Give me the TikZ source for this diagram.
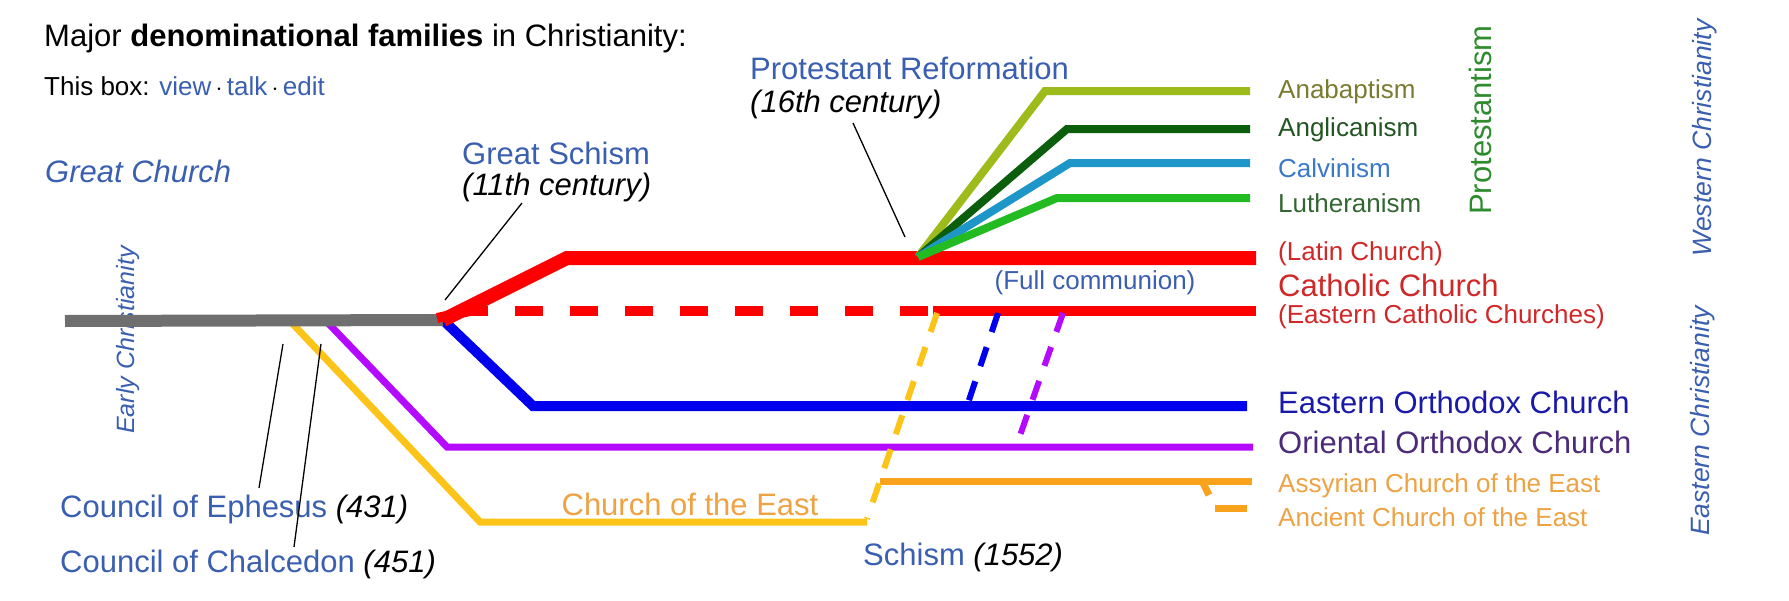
\documentclass[tikz,border=0pt]{standalone}
\usepackage{fontspec}
\setmainfont{Liberation Sans}
\definecolor{cgray}{HTML}{6F6F6F}
\definecolor{cred}{HTML}{FF0000}
\definecolor{tred}{HTML}{D02828}
\definecolor{cblue}{HTML}{0000EE}
\definecolor{tblue}{HTML}{1A1AA8}
\definecolor{cpurp}{HTML}{B40AFF}
\definecolor{tpurp}{HTML}{4B2A7A}
\definecolor{cyell}{HTML}{FCC418}
\definecolor{corange}{HTML}{F9A21B}
\definecolor{torange}{HTML}{EDA243}
\definecolor{cana}{HTML}{9DBB1B}
\definecolor{tana}{HTML}{7A7A30}
\definecolor{cang}{HTML}{0B5E0B}
\definecolor{tang}{HTML}{225522}
\definecolor{ccal}{HTML}{1E96C8}
\definecolor{tcal}{HTML}{3A78C8}
\definecolor{clut}{HTML}{22BB22}
\definecolor{tlut}{HTML}{336633}
\definecolor{link}{HTML}{3A5FB0}
\definecolor{tprot}{HTML}{2E8B2E}
\tikzset{
  lbl/.style={inner sep=0pt,anchor=west,font=\fontsize{26}{30}\selectfont},
  big/.style={inner sep=0pt,font=\fontsize{31}{36}\selectfont},
  leader/.style={draw=black,line width=1.3pt},
  br/.style={line join=miter,line cap=butt}
}
\begin{document}
\begin{tikzpicture}[x=1pt,y=-1pt]
\useasboundingbox (0,0) rectangle (1789,600);
% junction coordinates
\coordinate (gs) at (443,320);
\coordinate (pr) at (918,257);
% texts
\node[big,anchor=west] (title) at (44,38) {Major \textbf{denominational families} in Christianity:};
\node[lbl] (box) at (44,86) {This box: \textcolor{link}{view}\,$\cdot$\,\textcolor{link}{talk}\,$\cdot$\,\textcolor{link}{edit}};
\node[big,anchor=west,text=link] (gc) at (45,171) {\itshape Great Church};
\node[inner sep=0pt,rotate=90,text=link,font=\fontsize{25}{30}\selectfont\itshape] (ec) at (128,340) {Early Christianity};
\node[big,anchor=west,text=link] (gsch) at (462,153) {Great Schism};
\node[big,anchor=west] (gsc) at (462,187) {\itshape (11th century)};
\node[big,anchor=west,text=link] (prt) at (750,68) {Protestant Reformation};
\node[big,anchor=west] (prc) at (750,104) {\itshape (16th century)};
\node[big,anchor=west,text=link] (eph) at (60,509) {Council of Ephesus \textcolor{black}{\itshape (431)}};
\node[big,anchor=west,text=link] (chal) at (60,564) {Council of Chalcedon \textcolor{black}{\itshape (451)}};
\node[big,anchor=center,text=torange] (coe) at (690,504) {Church of the East};
\node[big,anchor=west,text=link] (sch) at (863,557) {Schism \textcolor{black}{\itshape (1552)}};
\node[lbl,anchor=center,text=link] (fc) at (1095,283) {(Full communion)};
% right labels
\node[lbl,text=tana] (l1) at (1278,92) {Anabaptism};
\node[lbl,text=tang] (l2) at (1278,130) {Anglicanism};
\node[lbl,text=tcal] (l3) at (1278,168) {Calvinism};
\node[lbl,text=tlut] (l4) at (1278,203) {Lutheranism};
\node[lbl,text=tred] (l5) at (1278,254) {(Latin Church)};
\node[big,anchor=west,text=tred] (l6) at (1278,285) {Catholic Church};
\node[lbl,text=tred] (l7) at (1278,317) {(Eastern Catholic Churches)};
\node[big,anchor=west,text=tblue] (l8) at (1278,402) {Eastern Orthodox Church};
\node[big,anchor=west,text=tpurp] (l9) at (1278,442) {Oriental Orthodox Church};
\node[lbl,text=torange] (l10) at (1278,486) {Assyrian Church of the East};
\node[lbl,text=torange] (l11) at (1278,517) {Ancient Church of the East};
\node[inner sep=0pt,rotate=90,text=tprot,font=\fontsize{31}{36}\selectfont] (prot) at (1480,120) {Protestantism};
\node[inner sep=0pt,rotate=90,text=link,font=\fontsize{26.5}{30}\selectfont\itshape] (wc) at (1705,138) {Western Christianity};
\node[inner sep=0pt,rotate=90,text=link,font=\fontsize{26.5}{30}\selectfont\itshape] (eac) at (1703,421) {Eastern Christianity};
% lines
\draw[br,cyell,line width=7pt] (291,322) -- (480,522) -- (867,522);
\draw[br,cpurp,line width=7pt] (327,322) -- (447,447) -- (1253,447);
\draw[br,cblue,line width=10pt] (gs) -- (533,406) -- (1247,406);
\draw[br,cgray,line width=12pt] (65,321) -- (gs);
\draw[br,cred,line width=10pt,dash pattern=on 28pt off 27pt] (460,311) -- (933,311);
\draw[br,cred,line width=10pt] (933,311) -- (1256,311);
\draw[br,cred,line width=14pt] (gs) -- (567,258) -- (1256,258);
\draw[br,cred,line width=10pt] (437,318) -- (470,311);
\draw[br,cana,line width=8pt] (pr) -- (1045,91) -- (1250,91);
\draw[br,cang,line width=8pt] (pr) -- (1067,129) -- (1250,129);
\draw[br,ccal,line width=8pt] (pr) -- (1070,163) -- (1250,163);
\draw[br,clut,line width=8pt] (pr) -- (1057,198) -- (1250,198);
\draw[br,corange,line width=7pt] (880,481) -- (1252,481);
\draw[br,corange,line width=7pt] (1202,481) -- (1209,495);
\draw[br,corange,line width=7pt] (1215,508) -- (1247,508);
% dashed communion links
\draw[br,cyell,line width=6pt,dash pattern=on 20pt off 16pt] (937,313) -- (867,519);
\draw[br,cblue,line width=6pt,dash pattern=on 20pt off 16pt] (998,313) -- (968,403);
\draw[br,cpurp,line width=6pt,dash pattern=on 20pt off 16pt] (1063,313) -- (1017,444);
% leaders
\draw[leader] (522,203) -- (445,300);
\draw[leader] (853,123) -- (905,237);
\draw[leader] (283,344) -- (259,488);
\draw[leader] (321,344) -- (294,547);
\end{tikzpicture}
\end{document}
